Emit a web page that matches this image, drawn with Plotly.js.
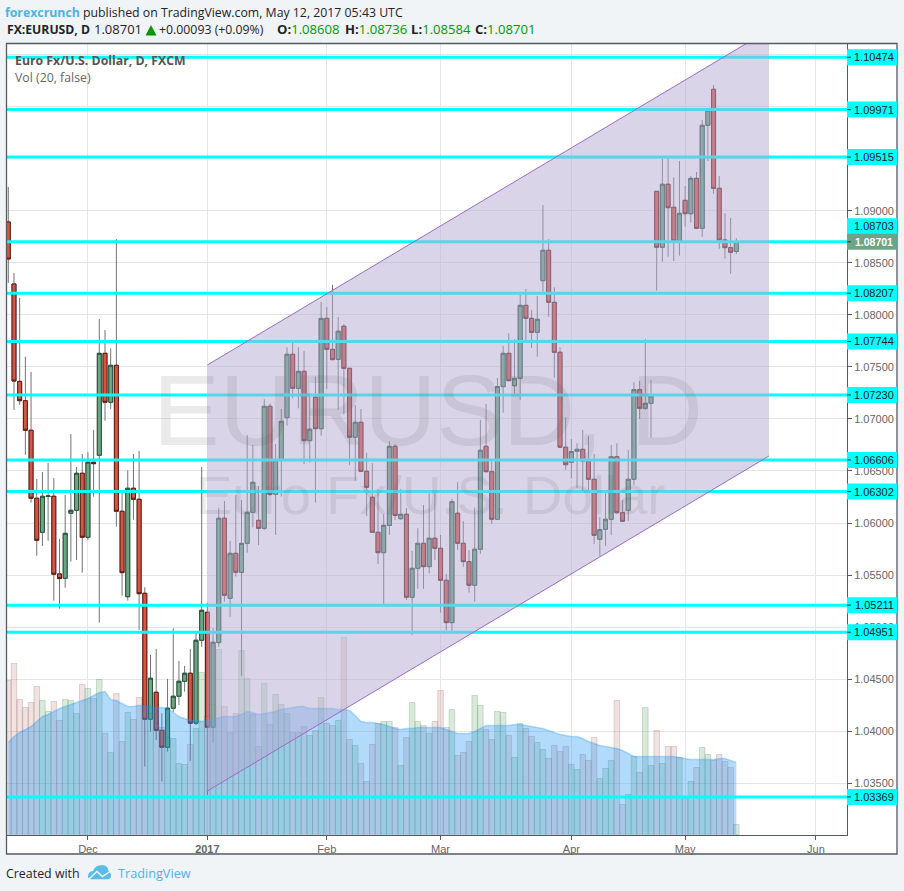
<!DOCTYPE html>
<html><head><meta charset="utf-8">
<script src="https://cdn.plot.ly/plotly-3.0.1.min.js"></script>
<style>html,body{margin:0;padding:0;background:#f1f4f7}</style></head>
<body><div id="chart" style="width:904px;height:891px"></div>
<script>
const open_ = [1.08892,1.08296,1.07361,1.07175,1.06891,1.06238,1.05911,1.06254,1.06257,1.05511,
1.05469,1.06094,1.06122,1.06478,1.05863,1.06584,1.06651,1.07630,1.07160,1.07515,
1.06113,1.05292,1.06334,1.06228,1.05325,1.04115,1.04374,1.04009,1.03846,1.04221,
1.04336,1.04480,1.04557,1.04077,1.04874,1.05143,1.04038,1.04851,1.06046,1.05277,
1.05709,1.05527,1.05805,1.06103,1.06026,1.05949,1.07121,1.06276,1.06606,1.07012,
1.07621,1.07294,1.07457,1.06791,1.07208,1.06906,1.07966,1.07668,1.07572,1.07890,
1.07486,1.06824,1.06968,1.06497,1.06247,1.05911,1.05715,1.05976,1.06737,1.06042,
1.06084,1.05287,1.05565,1.05805,1.05581,1.05854,1.05757,1.05450,1.05043,1.06094,
1.05805,1.05629,1.05402,1.05748,1.06737,1.06493,1.06036,1.07310,1.07630,1.07319,
1.07390,1.08091,1.07966,1.07832,1.08328,1.08620,1.08120,1.07640,1.06728,1.06584,
1.06689,1.06708,1.06596,1.06420,1.05844,1.05940,1.06036,1.06637,1.06099,1.06122,
1.06420,1.07281,1.07102,1.07150,1.09186,1.08649,1.09254,1.09033,1.08709,1.09100,
1.08971,1.09311,1.08831,1.09820,1.10166,1.09215,1.08719,1.08645,1.08608];
const high = [1.09228,1.08402,1.08162,1.07598,1.07451,1.06423,1.06490,1.06577,1.06433,1.05847,
1.06269,1.06855,1.06538,1.06663,1.06680,1.06894,1.07960,1.07854,1.07678,1.08728,
1.06295,1.06507,1.06663,1.06692,1.05383,1.04733,1.04790,1.04173,1.04502,1.04989,
1.04675,1.04627,1.04790,1.04944,1.06538,1.05232,1.04989,1.06145,1.06212,1.05830,
1.06269,1.06221,1.06846,1.06750,1.06356,1.07189,1.07150,1.06759,1.07096,1.07688,
1.07732,1.07688,1.07653,1.07249,1.07406,1.08123,1.08075,1.08287,1.07979,1.07912,
1.07489,1.07134,1.07096,1.06676,1.06574,1.06327,1.06087,1.06785,1.06759,1.06327,
1.06145,1.05732,1.05950,1.06173,1.06286,1.06286,1.05885,1.05511,1.06231,1.06392,
1.06020,1.05741,1.06147,1.06990,1.07144,1.06589,1.07393,1.07701,1.07823,1.07765,
1.08190,1.08248,1.08046,1.08181,1.09055,1.08725,1.08264,1.07688,1.07016,1.06807,
1.06766,1.06894,1.06836,1.06663,1.06055,1.06286,1.06750,1.06766,1.06221,1.06702,
1.07352,1.07364,1.07768,1.07374,1.09189,1.09497,1.09506,1.09321,1.09478,1.09237,
1.09333,1.09372,1.09871,1.09987,1.10207,1.09333,1.08975,1.08930,1.08736];
const low = [1.08306,1.07086,1.07134,1.06654,1.06196,1.05686,1.05780,1.05830,1.05254,1.05177,
1.05379,1.05629,1.05645,1.05523,1.05837,1.06253,1.05043,1.06983,1.07096,1.05965,
1.05302,1.05254,1.06032,1.04973,1.03660,1.03996,1.03916,1.03516,1.03804,1.04185,
1.04252,1.04380,1.03715,1.04060,1.04812,1.03388,1.03890,1.04810,1.05245,1.05100,
1.05485,1.04534,1.05715,1.05959,1.05789,1.05933,1.06260,1.05885,1.06253,1.06935,
1.07198,1.07102,1.06567,1.06580,1.06196,1.06839,1.07288,1.07566,1.07086,1.07048,
1.06558,1.06407,1.06490,1.06068,1.05905,1.05607,1.05223,1.05885,1.06029,1.06029,
1.05261,1.04925,1.05367,1.05367,1.05517,1.05645,1.05139,1.04966,1.04956,1.05741,
1.05581,1.05331,1.05245,1.05703,1.06493,1.05991,1.06036,1.07060,1.07364,1.07246,
1.07182,1.07758,1.07681,1.07598,1.08222,1.07982,1.07396,1.06718,1.06510,1.06426,
1.06337,1.06317,1.06301,1.05799,1.05683,1.05780,1.05885,1.06087,1.06010,1.06020,
1.06366,1.06999,1.07086,1.06820,1.08232,1.08510,1.08558,1.08517,1.08568,1.08846,
1.08885,1.08831,1.08750,1.09478,1.09163,1.08635,1.08539,1.08395,1.08584];
const close_ = [1.08536,1.07364,1.07175,1.06891,1.06238,1.05834,1.06257,1.06260,1.05508,1.05466,
1.05901,1.06122,1.06478,1.05863,1.06584,1.06570,1.07630,1.07160,1.07515,1.06113,
1.05523,1.06334,1.06228,1.05321,1.04115,1.04509,1.04009,1.03846,1.04221,1.04336,
1.04480,1.04557,1.04077,1.04874,1.05162,1.04038,1.04855,1.06046,1.05306,1.05709,
1.05527,1.05805,1.06103,1.06391,1.05949,1.07121,1.06276,1.06606,1.06977,1.07621,
1.07294,1.07457,1.06791,1.06901,1.06906,1.07966,1.07668,1.07569,1.07842,1.07486,
1.06824,1.06968,1.06497,1.06343,1.05911,1.05715,1.05978,1.06737,1.06073,1.06084,
1.05287,1.05565,1.05805,1.05581,1.05854,1.05757,1.05450,1.05043,1.06205,1.05805,
1.05629,1.05402,1.05748,1.06699,1.06493,1.06036,1.07310,1.07630,1.07367,1.07390,
1.08091,1.07966,1.07832,1.07957,1.08620,1.08120,1.07640,1.06728,1.06560,1.06687,
1.06708,1.06596,1.06420,1.05882,1.05936,1.06036,1.06637,1.06099,1.06017,1.06420,
1.07281,1.07102,1.07150,1.07220,1.08649,1.09254,1.09029,1.08709,1.08975,1.08971,
1.09311,1.08831,1.09820,1.09967,1.09215,1.08719,1.08645,1.08601,1.08701];
const volume = [154,171,135,127,132,148,134,123,133,114,
135,134,121,150,146,136,155,101,82,141,
93,122,115,137,129,121,111,107,97,96,
71,70,90,106,162,118,130,185,128,102,
121,184,156,120,88,151,110,140,130,121,
102,102,108,99,104,137,111,109,114,197,
95,89,71,53,90,111,113,113,107,69,
97,132,113,109,101,113,144,107,125,79,
82,93,139,129,105,95,123,122,99,77,
111,106,98,92,85,76,89,83,88,70,
65,80,74,97,56,66,74,134,30,40,
78,62,127,69,104,71,88,88,77,36,
53,67,87,80,74,80,73,67,10];
const volumeMA = [92,98,102,105,108,113,118,120,123,126,
128,130,132,134,136,139,142,143,135,134,
131,128,128,129,129,128,127,127,126,122,
118,116,114,114,113,114,115,117,118,118,
118,120,123,122,120,121,122,123,125,126,
127,128,128,126,126,126,126,126,125,125,
124,119,113,112,112,111,110,108,106,105,
106,106,107,107,107,107,107,105,103,101,
101,101,103,106,109,109,109,109,109,110,
110,109,108,107,106,104,102,100,99,98,
98,96,93,91,89,88,87,86,84,81,
78,78,78,78,78,78,78,78,77,76,
75,75,75,75,75,76,76,74,72];
const levels = [1.10474,1.09971,1.09515,1.08701,1.08207,1.07744,1.07230,1.06606,1.06302,1.05211,1.04951,1.03369];
const levelLabels = ['1.10474','1.09971','1.09515','1.08703','1.08207','1.07744','1.07230','1.06606','1.06302','1.05211','1.04951','1.03369'];
const priceTicks = [1.035,1.04,1.045,1.05,1.055,1.06,1.065,1.07,1.075,1.08,1.085,1.09,1.095,1.10,1.105];
const priceTickLabels = ['1.03500','1.04000','1.04500','1.05000','1.05500','1.06000','1.06500','1.07000','1.07500','1.08000','1.08500','1.09000','','',''];
const dateTickIndex = [14,35,56,76,99,119,142];
const dateTickLabels = ['Dec','<b>2017</b>','Feb','Mar','Apr','May','Jun'];
const channelIndex = [35,133.75];
const channelUpper = [1.07518,1.10736];
const channelLower = [1.03426,1.06644];
const lastPrice = 1.08701;

const W=904,H=891,L=7,R=847,T=43,B=835;
const px=v=>(v-L)/(R-L), py=v=>(B-v)/(B-T);
const idx=open_.map((_,i)=>i);
const isUp=open_.map((o,i)=>close_[i]>=o);
const SANS='"Open Sans", sans-serif', AR='"Liberation Sans", Arial, sans-serif';

const traces=[
 {type:'candlestick',x:idx,open:open_,high:high,low:low,close:close_,xaxis:'x',yaxis:'y',whiskerwidth:0,
  increasing:{line:{color:'#737375',width:1},fillcolor:'#737375'},
  decreasing:{line:{color:'#737375',width:1},fillcolor:'#737375'},hoverinfo:'skip',showlegend:false},
 {type:'candlestick',x:idx,open:open_,close:close_,
  high:open_.map((o,i)=>Math.max(o,close_[i])),low:open_.map((o,i)=>Math.min(o,close_[i])),
  xaxis:'x',yaxis:'y',whiskerwidth:0,
  increasing:{line:{color:'#225437',width:1},fillcolor:'#6ba583'},
  decreasing:{line:{color:'#5b1a13',width:1},fillcolor:'#d75442'},hoverinfo:'skip',showlegend:false},
 {type:'bar',x:idx,y:volume,xaxis:'x',yaxis:'y2',width:0.98,hoverinfo:'skip',showlegend:false,
  marker:{color:isUp.map(u=>u?'rgba(80,160,90,.22)':'rgba(180,110,100,.2)'),
          line:{width:1,color:isUp.map(u=>u?'rgba(34,110,55,.2)':'rgba(91,26,19,.16)')}}},
 {type:'scatter',mode:'lines',x:idx,y:volumeMA,xaxis:'x',yaxis:'y2',fill:'tozeroy',
  fillcolor:'rgba(33,150,243,.35)',line:{color:'rgba(33,150,243,.3)',width:1.5},hoverinfo:'skip',showlegend:false}
];

const shapes=[
 {type:'rect',xref:'paper',yref:'paper',layer:'below',x0:px(6.5),x1:px(897),y0:py(854),y1:py(43),fillcolor:'#ffffff',line:{width:0}}
];
levels.forEach(v=>shapes.push({type:'line',xref:'paper',yref:'y',layer:'above',x0:0,x1:1,y0:v,y1:v,line:{color:'#00ffff',width:3}}));
shapes.push({type:'path',xref:'x',yref:'y',layer:'above',
 path:`M${channelIndex[0]},${channelUpper[0]}L${channelIndex[1]},${channelUpper[1]}L${channelIndex[1]},${channelLower[1]}L${channelIndex[0]},${channelLower[0]}Z`,
 fillcolor:'rgba(179,169,209,.5)',line:{width:0}});
[channelUpper,channelLower].forEach(c=>shapes.push({type:'line',xref:'x',yref:'y',layer:'above',
 x0:channelIndex[0],x1:channelIndex[1],y0:c[0],y1:c[1],line:{color:'#9b6bc0',width:1}}));
shapes.push({type:'rect',xref:'paper',yref:'paper',layer:'above',x0:px(6.5),x1:px(897),y0:py(854),y1:py(43.5),fillcolor:'rgba(0,0,0,0)',line:{color:'#555a63',width:1.3}});
levels.forEach((v,i)=>{
  const last=v===lastPrice;
  shapes.push({type:'rect',xref:'paper',yref:'y',layer:'above',ysizemode:'pixel',yanchor:v,
    x0:1,x1:px(897),y0:last?7.5:-8,y1:last?23.5:8,fillcolor:'#00ffff',line:{width:0}});
  shapes.push({type:'line',xref:'paper',yref:'y',layer:'above',x0:1,x1:px(851),y0:v,y1:v,line:{color:'#333',width:1}});
});
shapes.push({type:'rect',xref:'paper',yref:'y',layer:'above',ysizemode:'pixel',yanchor:lastPrice,
    x0:1,x1:px(897),y0:-8,y1:8,fillcolor:'#6ba583',line:{width:0}});
shapes.push({type:'line',xref:'paper',yref:'y',layer:'above',x0:1,x1:px(851),y0:lastPrice,y1:lastPrice,line:{color:'#333',width:1}});
const P=(a)=>a.map(s=>typeof s==='string'?s:`${px(s[0])},${py(s[1])}`).join(' ');
shapes.push({type:'path',xref:'paper',yref:'paper',layer:'above',fillcolor:'#5cbce8',line:{width:0},
 path:P(['M',[88,876.5],'Q',[88,871.5],[93,871],'Q',[95,865],[102,865],'Q',[108,865.5],[108.5,871],'Q',[111.5,873],[111,876.5],'Q',[110.5,879.3],[108,879.3],'L',[91,879.3],'Q',[88,879.3],[88,876.5],'Z'])});
shapes.push({type:'path',xref:'paper',yref:'paper',layer:'above',line:{color:'#f1f4f7',width:1.5},
 path:P(['M',[89,879],'L',[97,871.5],'L',[102.5,876.5],'L',[110,871.5]])});
shapes.push({type:'path',xref:'paper',yref:'paper',layer:'above',fillcolor:'#009900',line:{width:0},
 path:P(['M',[145.5,35.5],'L',[151,25],'L',[156.5,35.5],'Z'])});

const ann=(x,y,text,size,color,family,extra)=>Object.assign({xref:'paper',yref:'paper',x:px(x),y:py(y),text,showarrow:false,xanchor:'left',yanchor:'middle',
  font:{size,color,family},align:'left',borderpad:0,borderwidth:0},extra||{});
const g='#009900', dk='#1f2328';
const annotations=[
 ann(5,12,'<b><span style="color:#4db3e6">forexcrunch</span></b> published on TradingView.com, May 12, 2017 05:43 UTC',12.3,dk,SANS),
 ann(7,29.5,'<b>FX:EURUSD, D</b>',12.2,dk,SANS),
 ann(94,29.5,'1.08701',13,dk,SANS),
 ann(159,29.5,'+0.00093 (+0.09%)',12.3,dk,SANS),
 ann(277,29.5,`<b>O:</b><span style="color:${g}">1.08608</span>`,13.1,dk,SANS),
 ann(345,29.5,`<b>H:</b><span style="color:${g}">1.08736</span>`,13.1,dk,SANS),
 ann(411,29.5,`<b>L:</b><span style="color:${g}">1.08584</span>`,13.1,dk,SANS),
 ann(475,29.5,`<b>C:</b><span style="color:${g}">1.08701</span>`,13.1,dk,SANS),
 ann(15,60.5,'<b>Euro Fx/U.S. Dollar, D, FXCM</b>',12.3,'#555',SANS),
 ann(15,77.5,'Vol (20, false)',12.3,'#666',SANS),
 ann(428,410,'EURUSD, D',100,'rgba(90,90,90,.13)',AR,{xanchor:'center'}),
 ann(430,495,'Euro Fx/U.S. Dollar',54.5,'rgba(90,90,90,.12)',AR,{xanchor:'center'}),
 ann(6,873,'Created with',12.4,dk,SANS),
 ann(118,873,'TradingView',12.7,'#4db3e6',SANS)
];
levels.forEach((v,i)=>{
  const last=v===lastPrice;
  annotations.push({xref:'paper',yref:'y',x:px(874),y:v,yshift:last?15.5:0,text:levelLabels[i],showarrow:false,xanchor:'center',yanchor:'middle',
    font:{size:11,color:'#222',family:AR},borderpad:0});
});
annotations.push({xref:'paper',yref:'y',x:px(874),y:lastPrice,text:'<b>1.08701</b>',showarrow:false,xanchor:'center',yanchor:'middle',font:{size:10.5,color:'#fff',family:AR},borderpad:0});

const layout={
 width:W,height:H,margin:{l:L,r:W-R,t:T,b:H-B,pad:0},
 paper_bgcolor:'#f1f4f7',plot_bgcolor:'#ffffff',showlegend:false,bargap:0,boxgap:0,dragmode:false,
 xaxis:{type:'linear',range:[-0.23,147.46],tickmode:'array',tickvals:dateTickIndex,ticktext:dateTickLabels,
   showgrid:true,gridcolor:'#e6e6e6',gridwidth:1,zeroline:false,showline:true,linecolor:'#555a63',linewidth:1,
   ticks:'outside',ticklen:4,tickcolor:'#555a63',tickfont:{family:AR,size:11,color:'#666'},rangeslider:{visible:false},fixedrange:true},
 yaxis:{side:'right',range:[1.03003,1.10611],tickmode:'array',tickvals:priceTicks,ticktext:priceTickLabels,
   showgrid:true,gridcolor:'#e6e6e6',gridwidth:1,zeroline:false,showline:true,linecolor:'#555a63',linewidth:1,
   ticks:'outside',ticklen:4,tickcolor:'#555a63',tickfont:{family:AR,size:11,color:'#666'},fixedrange:true},
 yaxis2:{overlaying:'y',side:'left',range:[-0.5,791.5],visible:false,fixedrange:true},
 shapes,annotations
};
Plotly.newPlot('chart',traces,layout,{displayModeBar:false,staticPlot:true});
</script></body></html>
